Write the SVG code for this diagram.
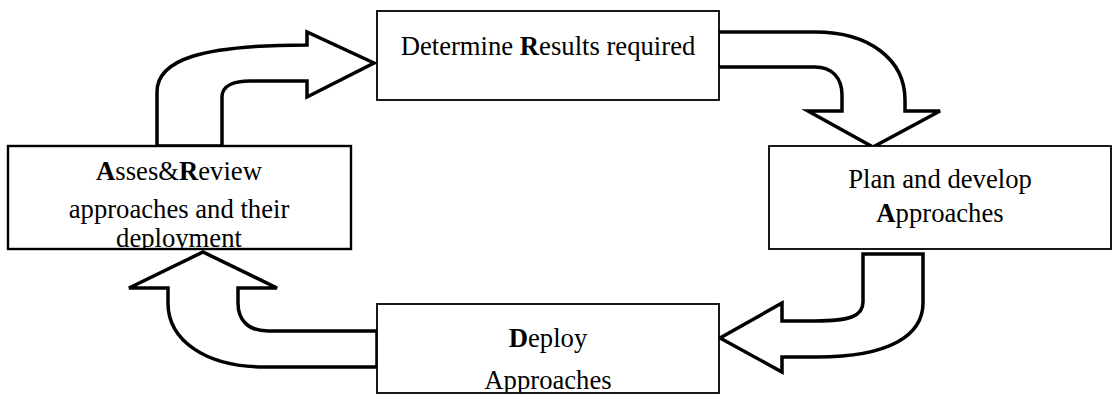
<svg xmlns="http://www.w3.org/2000/svg" width="1112" height="395" viewBox="0 0 1112 395">
<style>
.box{fill:#fff;stroke:#000;stroke-width:1.8}
.arrow{fill:#fff;stroke:#000;stroke-width:3.5;stroke-linejoin:miter}
text{font-family:"Liberation Serif","Times New Roman",serif;font-size:26.67px;fill:#000;text-anchor:middle}
.b{font-weight:bold}
</style>
<defs>
<clipPath id="clipLeft"><rect x="8" y="146" width="343" height="103"/></clipPath>
<clipPath id="clipBottom"><rect x="377" y="304" width="342" height="89"/></clipPath>
</defs>
<g id="connectors">
<path class="arrow" d="M157,146 L157,92 C157,60 200,45 307,45 L307,32 L374,63 L307,97 L307,81 L250,81 C235,81 222,85 222,97 L222,146 Z"/>
<path class="arrow" d="M718,32 L815,32 C870,32 905,60 905,100 L905,111 L940,111 L873,147 L808,111 L842,111 L842,95 C842,78 832,67 815,67 L718,67 Z"/>
<path class="arrow" d="M863,254 L863,302 C863,316 850,321 815,321 L782,321 L782,303 L720,338 L782,372 L782,357 L817,357 C890,357 923,335 923,303 L923,254 Z"/>
<path class="arrow" d="M377,331 L268,331 C248,331 238,320 238,303 L238,288 L277,288 L203,252 L129,288 L168,288 L168,303 C168,340 205,367 265,367 L377,367 Z"/>
</g>
<g id="node-results">
<rect class="box" x="377" y="11" width="342" height="89"/>
<text x="548" y="55">Determine <tspan class="b">R</tspan>esults required</text>
</g>
<g id="node-plan">
<rect class="box" x="769" y="146" width="342" height="103"/>
<text x="940" y="188">Plan and develop</text>
<text x="940" y="222"><tspan class="b">A</tspan>pproaches</text>
</g>
<g id="node-deploy">
<rect class="box" x="377" y="304" width="342" height="89"/>
<g clip-path="url(#clipBottom)">
<text x="548" y="347"><tspan class="b">D</tspan>eploy</text>
<text x="548" y="389">Approaches</text>
</g>
</g>
<g id="node-review">
<rect class="box" x="8" y="146" width="343" height="103" style="stroke-width:2.4"/>
<g clip-path="url(#clipLeft)">
<text x="179" y="180"><tspan class="b">A</tspan>sses&amp;<tspan class="b">R</tspan>eview</text>
<text x="179" y="218">approaches and their</text>
<text x="179" y="247">deployment</text>
</g>
</g>
</svg>
